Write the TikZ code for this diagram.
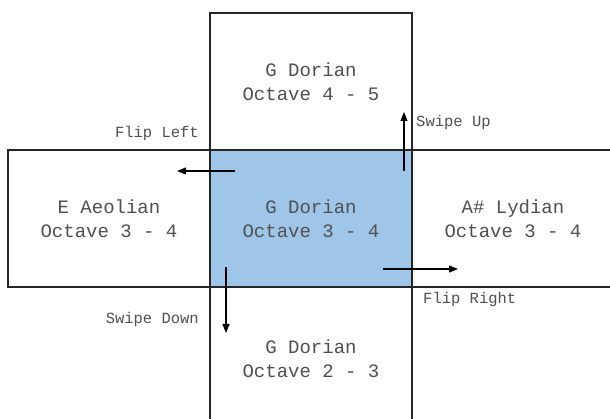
\documentclass[tikz,border=0pt]{standalone}
\usepackage{fontspec}
\setmonofont{Liberation Mono}
\usetikzlibrary{arrows.meta}
\definecolor{midblue}{HTML}{9FC5E8}
\definecolor{labelgray}{HTML}{505050}

\begin{document}
\begin{tikzpicture}[x=1pt, y=-1pt,
  modebox/.style={draw=black!85, line width=1.2pt, minimum width=202pt, minimum height=137pt, inner sep=0pt, align=center, text=labelgray, font=\ttfamily\fontsize{19}{23.5}\selectfont},
  move/.style={-{Triangle[length=9pt,width=7pt]}, line width=1.3pt},
  hint/.style={inner sep=0pt, text=labelgray, font=\ttfamily\fontsize{15.5}{18}\selectfont}]
\useasboundingbox (0,0) rectangle (610,419);
\clip (0,0) rectangle (610,419);

\coordinate (up) at (311,81.5);
\coordinate (left) at (109,218.5);
\coordinate (mid) at (311,218.5);
\coordinate (right) at (513,218.5);
\coordinate (down) at (311,358.5);

\coordinate (l1) at (235,171);
\coordinate (l2) at (177,171);
\coordinate (u1) at (404,171);
\coordinate (u2) at (404,112);
\coordinate (d1) at (226,267);
\coordinate (d2) at (226,333);
\coordinate (r1) at (383,269);
\coordinate (r2) at (458,269);

\node[modebox, fill=white] (upbox) at (up) {G Dorian\\Octave 4 - 5};
\node[modebox, fill=white] (rightbox) at (right) {A\# Lydian\\Octave 3 - 4};
\node[modebox, fill=white, minimum height=143pt] (downbox) at (down) {G Dorian\\Octave 2 - 3};
\node[modebox, fill=white] (leftbox) at (left) {E Aeolian\\Octave 3 - 4};
\node[modebox, fill=midblue] (midbox) at (mid) {G Dorian\\Octave 3 - 4};

\foreach \a/\b in {l1/l2,u1/u2,d1/d2,r1/r2}
{  \draw[move] (\a) -- (\b);  }

\node[hint, anchor=east] (flipleft) at (199,133) {Flip Left};
\node[hint, anchor=west] (swipeup) at (416,122) {Swipe Up};
\node[hint, anchor=east] (swipedown) at (199,319) {Swipe Down};
\node[hint, anchor=west] (flipright) at (423,299) {Flip Right};

\end{tikzpicture}
\end{document}
